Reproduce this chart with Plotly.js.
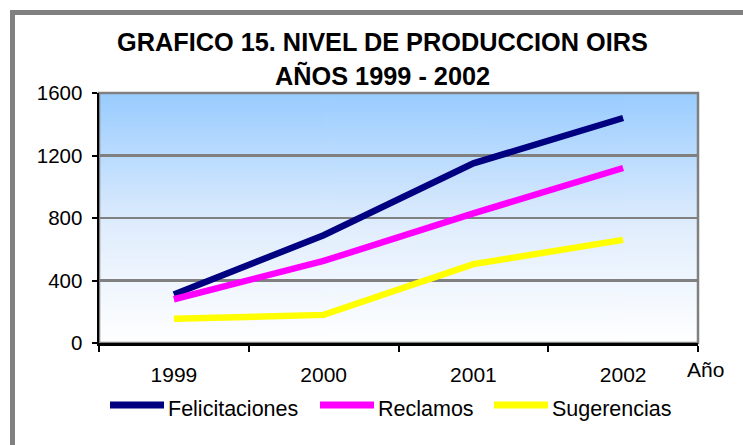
<!DOCTYPE html>
<html>
<head>
<meta charset="utf-8">
<script src="https://cdn.plot.ly/plotly-3.0.1.min.js"></script>
<style>
  html, body { margin: 0; padding: 0; background: #ffffff; overflow: hidden; }
  #frame { position: absolute; left: 10px; top: 10px; width: 760px; height: 460px;
           border-left: 5px solid #808080; border-top: 5px solid #808080; box-sizing: border-box; }
  #chart { position: absolute; left: 0; top: 0; width: 743px; height: 445px; }
</style>
</head>
<body>
<div id="frame"></div>
<div id="chart"></div>
<script>
// ---- data ----
const years = ['1999', '2000', '2001', '2002'];
const felicitaciones = [310, 690, 1150, 1440];
const reclamos = [280, 525, 830, 1120];
const sugerencias = [155, 180, 505, 660];
const seriesNames = ['Felicitaciones', 'Reclamos', 'Sugerencias'];
const yTicks = [0, 400, 800, 1200, 1600];
const titleLine1 = 'GRAFICO 15. NIVEL DE PRODUCCION OIRS';
const titleLine2 = 'AÑOS 1999 - 2002';
const xAxisLabel = 'Año';

// ---- styles ----
const colors = ['#000080', '#FF00FF', '#FFFF00'];
const seriesValues = [felicitaciones, reclamos, sugerencias];
const FONT = 'Arial, "Liberation Sans", sans-serif';

// gradient background for plot area
function gradientURL() {
  const c = document.createElement('canvas');
  c.width = 4; c.height = 256;
  const ctx = c.getContext('2d');
  const g = ctx.createLinearGradient(0, 0, 0, 256);
  g.addColorStop(0, '#99CCFF');
  g.addColorStop(0.55, '#E2EEFD');
  g.addColorStop(1, '#FFFFFF');
  ctx.fillStyle = g;
  ctx.fillRect(0, 0, 4, 256);
  return c.toDataURL('image/png');
}

const W = 743, H = 445;
const margin = {l: 99, r: 45, t: 93, b: 102};

const traces = seriesValues.map((vals, i) => ({
  type: 'scatter', mode: 'lines', x: years, y: vals, name: seriesNames[i],
  line: {color: colors[i], width: 6.5}, hoverinfo: 'x+y+name', showlegend: false
}));

// custom legend (positions in pixels -> paper)
const px = x => (x - margin.l) / (W - margin.l - margin.r);
const py = y => (H - margin.b - y) / (H - margin.t - margin.b);
const legendStarts = [107, 317, 491];
const legendY = 405;
const shapes = [{
  type: 'rect', xref: 'paper', yref: 'paper', x0: 0, x1: 1, y0: 0, y1: 1,
  line: {color: '#808080', width: 2.5}, layer: 'below'
}];
const annotations = [
  {text: '<b>' + titleLine1 + '</b>', xref: 'paper', yref: 'paper', x: px(382), y: py(42),
   showarrow: false, xanchor: 'center', yanchor: 'middle', font: {family: FONT, size: 25.3, color: '#000'}},
  {text: '<b>' + titleLine2 + '</b>', xref: 'paper', yref: 'paper', x: px(382), y: py(76),
   showarrow: false, xanchor: 'center', yanchor: 'middle', font: {family: FONT, size: 25.3, color: '#000'}},
  {text: xAxisLabel, xref: 'paper', yref: 'paper', x: px(705), y: py(369),
   showarrow: false, xanchor: 'center', yanchor: 'middle', font: {family: FONT, size: 21, color: '#000'}}
];
seriesNames.forEach((n, i) => {
  const x0 = legendStarts[i];
  shapes.push({type: 'line', xref: 'paper', yref: 'paper', x0: px(x0 + 3), x1: px(x0 + 57),
    y0: py(legendY), y1: py(legendY), line: {color: colors[i], width: 7}});
  annotations.push({text: n, xref: 'paper', yref: 'paper', x: px(x0 + 59), y: py(legendY + 4),
    showarrow: false, xanchor: 'left', yanchor: 'middle', font: {family: FONT, size: 21.5, color: '#000'}});
});

const layout = {
  width: W, height: H, margin: margin,
  paper_bgcolor: 'rgba(0,0,0,0)', plot_bgcolor: 'rgba(0,0,0,0)',
  showlegend: false,
  font: {family: FONT, size: 20, color: '#000'},
  xaxis: {
    type: 'category', range: [-0.5, 3.5], tickson: 'boundaries',
    ticks: 'outside', ticklen: 6, tickwidth: 2, tickcolor: '#000',
    showline: true, linecolor: '#000', linewidth: 2.5, showgrid: false, zeroline: false,
    ticklabelstandoff: 11, tickfont: {family: FONT, size: 21, color: '#000'}
  },
  yaxis: {
    range: [0, 1600], tickvals: yTicks, ticktext: yTicks.map(String),
    ticks: 'outside', ticklen: 5, tickwidth: 2, tickcolor: '#000',
    showline: true, linecolor: '#000', linewidth: 2.5,
    showgrid: true, gridcolor: '#808080', gridwidth: 2.5, zeroline: false,
    ticklabelstandoff: 5, tickfont: {family: FONT, size: 20.5, color: '#000'}
  },
  images: [{source: gradientURL(), xref: 'paper', yref: 'paper', x: 0, y: 1,
    sizex: 1, sizey: 1, sizing: 'stretch', xanchor: 'left', yanchor: 'top', layer: 'below'}],
  shapes: shapes,
  annotations: annotations
};

Plotly.newPlot('chart', traces, layout, {displayModeBar: false, staticPlot: true});
</script>
</body>
</html>
